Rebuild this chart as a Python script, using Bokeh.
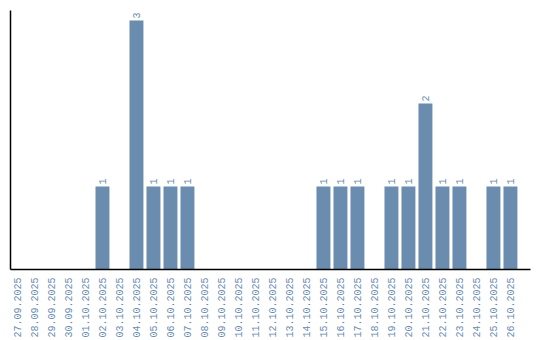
import math
from bokeh.plotting import figure
from bokeh.models import ColumnDataSource, FixedTicker, Range1d
from bokeh.core.properties import value
from bokeh.embed import file_html
from bokeh.resources import INLINE

dates = ["27.09.2025", "28.09.2025", "29.09.2025", "30.09.2025", "01.10.2025",
         "02.10.2025", "03.10.2025", "04.10.2025", "05.10.2025", "06.10.2025",
         "07.10.2025", "08.10.2025", "09.10.2025", "10.10.2025", "11.10.2025",
         "12.10.2025", "13.10.2025", "14.10.2025", "15.10.2025", "16.10.2025",
         "17.10.2025", "18.10.2025", "19.10.2025", "20.10.2025", "21.10.2025",
         "22.10.2025", "23.10.2025", "24.10.2025", "25.10.2025", "26.10.2025"]
counts = [0, 0, 0, 0, 0, 1, 0, 3, 1, 1, 1, 0, 0, 0, 0, 0, 0, 0, 1, 1, 1, 0, 1, 1, 2, 1, 1, 0, 1, 1]

BAR = "#6a8caf"
LBL = "#6a8caf"

idx = list(range(len(dates)))
src = ColumnDataSource(dict(x=idx, top=counts))
nz = [i for i in idx if counts[i] > 0]
lsrc = ColumnDataSource(dict(x=nz, y=[counts[i] for i in nz], t=[str(counts[i]) for i in nz]))

p = figure(width=540, height=340, output_backend="svg", toolbar_location=None,
           x_range=Range1d(-0.41, 30.18), y_range=Range1d(0, 3.12),
           min_border_left=10, min_border_right=10, min_border_top=10, min_border_bottom=0)
p.outline_line_color = None
p.grid.visible = False
p.background_fill_color = "white"

p.vbar(x="x", top="top", width=0.82, source=src, color=BAR, line_color=None)
p.text(x="x", y="y", text="t", source=lsrc, angle=math.pi / 2, y_offset=-2,
       text_align="left", text_baseline="middle", text_color=LBL,
       text_font=value("Liberation Mono"), text_font_size="10px")

p.xaxis.ticker = FixedTicker(ticks=idx)
p.xaxis.major_label_overrides = {i: d for i, d in enumerate(dates)}
p.xaxis.major_label_orientation = math.pi / 2
p.xaxis.major_label_text_font = "Liberation Mono"
p.xaxis.major_label_text_font_size = "10px"
p.xaxis.major_label_text_color = LBL
p.xaxis.major_tick_line_color = None
p.xaxis.minor_tick_line_color = None
p.xaxis.major_label_standoff = 2
p.xaxis.axis_line_color = "black"
p.xaxis.axis_line_width = 1.5

p.yaxis.ticker = FixedTicker(ticks=[])
p.yaxis.major_tick_line_color = None
p.yaxis.minor_tick_line_color = None
p.yaxis.axis_line_color = "black"
p.yaxis.axis_line_width = 1.5
p.yaxis.major_label_standoff = 0

open("out.html", "w").write(file_html(p, INLINE))
